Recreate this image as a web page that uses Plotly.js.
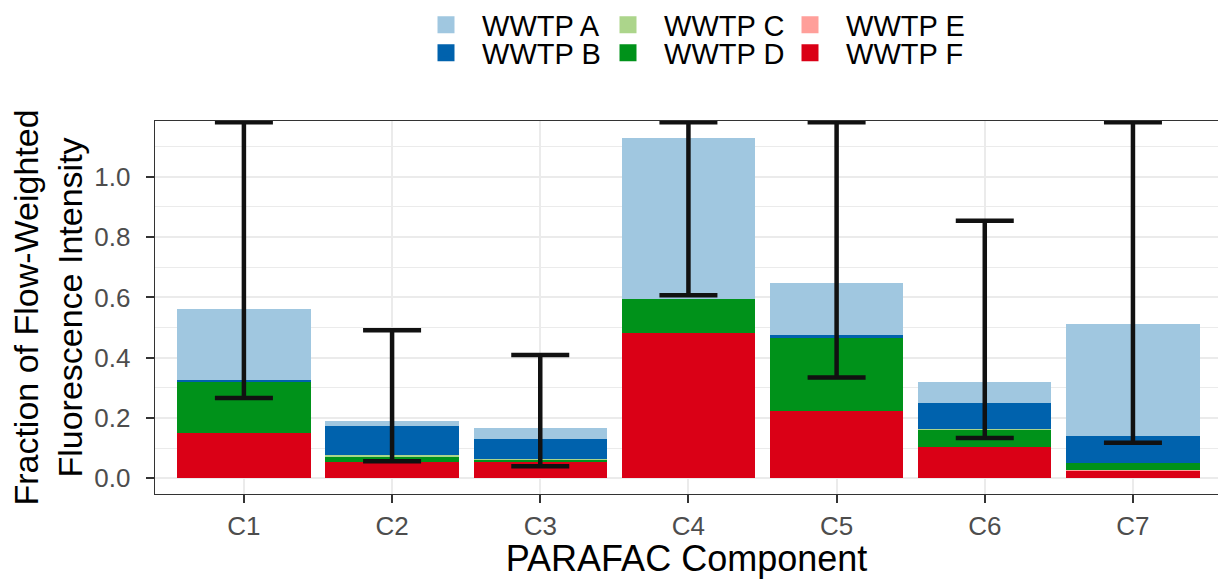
<!DOCTYPE html>
<html>
<head>
<meta charset="utf-8">
<script src="https://cdn.plot.ly/plotly-3.0.1.min.js"></script>
<style>html,body{margin:0;padding:0;background:#fff;}#chart{width:1218px;height:579px;}</style>
</head>
<body>
<div id="chart"></div>
<script>
const categories = ['C1', 'C2', 'C3', 'C4', 'C5', 'C6', 'C7'];
// stacked components (bottom to top: F, E, D, C, B, A)
const wwtpF = [0.149, 0.055, 0.054, 0.481, 0.224, 0.103, 0.025];
const wwtpE = [0.000, 0.000, 0.000, 0.000, 0.000, 0.000, 0.002];
const wwtpD = [0.171, 0.017, 0.008, 0.113, 0.243, 0.056, 0.023];
const wwtpC = [0.000, 0.005, 0.002, 0.000, 0.000, 0.003, 0.000];
const wwtpB = [0.007, 0.096, 0.067, 0.000, 0.008, 0.089, 0.091];
const wwtpA = [0.233, 0.016, 0.036, 0.535, 0.174, 0.068, 0.371];
// error bar ends (upper ends beyond the panel are drawn at the panel top)
const errLower = [0.266, 0.057, 0.040, 0.607, 0.334, 0.134, 0.118];
const errUpper = [1.181, 0.491, 0.409, 1.181, 1.181, 0.854, 1.181];
const seriesNames = ['WWTP A', 'WWTP B', 'WWTP C', 'WWTP D', 'WWTP E', 'WWTP F'];

const colors = {
  'WWTP A': '#a0c7e0', 'WWTP B': '#0062ad', 'WWTP C': '#acd58b',
  'WWTP D': '#00921a', 'WWTP E': '#ff9f9a', 'WWTP F': '#da0016'
};
const values = {
  'WWTP A': wwtpA, 'WWTP B': wwtpB, 'WWTP C': wwtpC,
  'WWTP D': wwtpD, 'WWTP E': wwtpE, 'WWTP F': wwtpF
};
const stackOrder = ['WWTP F', 'WWTP E', 'WWTP D', 'WWTP C', 'WWTP B', 'WWTP A'];
const legendOf = {
  'WWTP A': 'legend', 'WWTP C': 'legend', 'WWTP E': 'legend',
  'WWTP B': 'legend2', 'WWTP D': 'legend2', 'WWTP F': 'legend2'
};

const traces = [];
stackOrder.forEach(name => {
  traces.push({
    type: 'bar', name: name, x: categories, y: values[name],
    width: 0.9, marker: {color: colors[name], line: {width: 0}},
    showlegend: false, hoverinfo: 'x+y+name'
  });
});
// legend proxies (no data drawn)
stackOrder.forEach(name => {
  traces.push({
    type: 'bar', name: '\u00a0\u00a0' + name, x: [categories[0]], y: [null],
    width: 0.9, marker: {color: colors[name], line: {width: 5, color: colors[name]}},
    legend: legendOf[name], showlegend: true, hoverinfo: 'skip'
  });
});
traces.push({
  type: 'scatter', mode: 'markers', x: categories, y: errUpper,
  marker: {size: 1, opacity: 0},
  error_y: {
    type: 'data', symmetric: false,
    array: errUpper.map(() => 0),
    arrayminus: errUpper.map((u, i) => u - errLower[i]),
    color: '#111111', thickness: 4.5, width: 29
  },
  showlegend: false, hoverinfo: 'skip'
});

const FONT = 'Liberation Sans, Arial, sans-serif';
const legendCommon = {
  orientation: 'h', xref: 'container', yref: 'container',
  xanchor: 'left', yanchor: 'middle', traceorder: 'reversed',
  font: {family: FONT, size: 29, color: '#000'},
  bgcolor: 'rgba(0,0,0,0)', entrywidth: 137, itemclick: false, itemdoubleclick: false
};

const layout = {
  width: 1218, height: 579,
  margin: {l: 155, r: 0, t: 121, b: 85},
  paper_bgcolor: '#fff', plot_bgcolor: '#fff',
  barmode: 'stack', bargap: 0.1,
  font: {family: FONT},
  showlegend: true,
  legend: Object.assign({}, legendCommon, {x: 426 / 1218, y: 1 - 25 / 579}),
  legend2: Object.assign({}, legendCommon, {x: 426 / 1218, y: 1 - 53 / 579}),
  xaxis: {
    type: 'category', range: [-0.6, 6.574],
    showline: true, linecolor: '#333333', linewidth: 1.3, mirror: true,
    ticks: 'outside', ticklen: 8, tickwidth: 2, tickcolor: '#333333',
    tickfont: {family: FONT, size: 26, color: '#4d4d4d'},
    showgrid: true, gridcolor: '#ebebeb', gridwidth: 2, zeroline: false,
    title: {text: 'PARAFAC Component', font: {family: FONT, size: 36, color: '#000'}, standoff: 3}
  },
  yaxis: {
    range: [-0.052, 1.185], dtick: 0.2, tick0: 0, tickformat: '.1f',
    showline: true, linecolor: '#333333', linewidth: 1.3,
    ticks: 'outside', ticklen: 8, tickwidth: 2, tickcolor: '#333333',
    ticklabelstandoff: 10,
    tickfont: {family: FONT, size: 26, color: '#4d4d4d'},
    showgrid: true, gridcolor: '#ebebeb', gridwidth: 2, zeroline: false,
    minor: {dtick: 0.1, tick0: 0, showgrid: true, gridcolor: '#ebebeb', gridwidth: 1, ticks: ''},
    title: {text: 'Fraction of Flow-Weighted<br>Fluorescence Intensity', font: {family: FONT, size: 34, color: '#000'}, standoff: 1}
  }
};

Plotly.newPlot('chart', traces, layout, {displayModeBar: false, staticPlot: true});
</script>
</body>
</html>
